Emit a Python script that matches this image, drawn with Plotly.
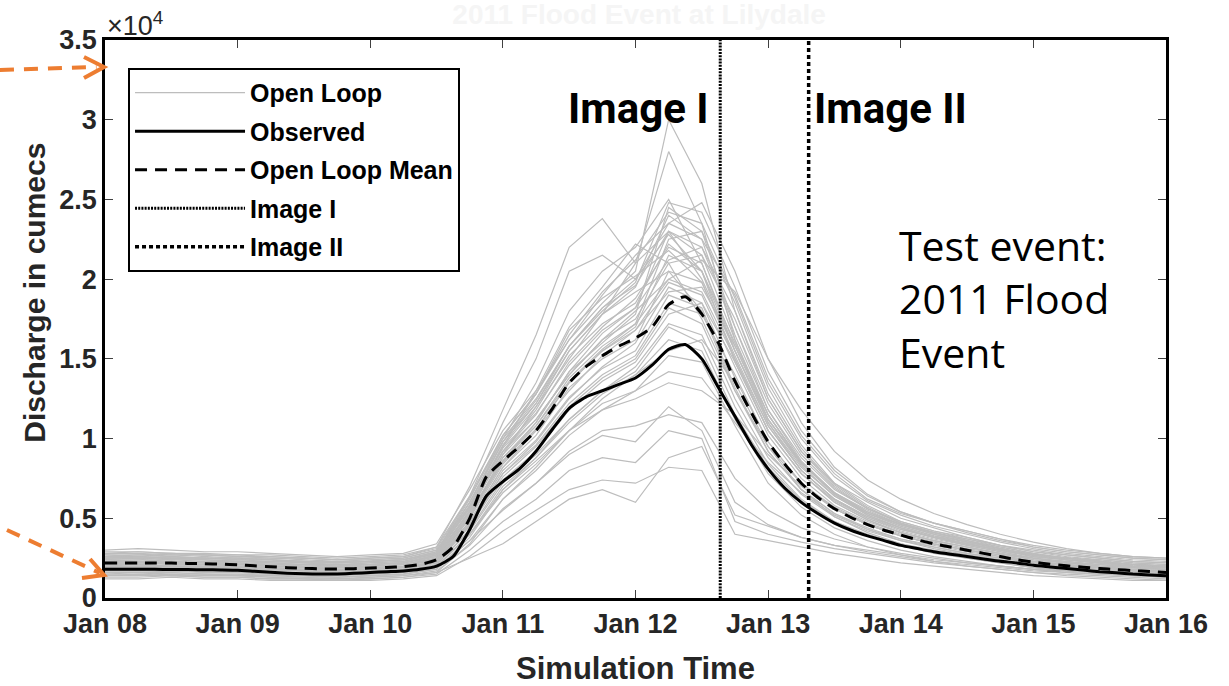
import plotly.graph_objects as go
import pandas as pd

# ---------------- data (discharge in units of 10^4 cumecs) ----------------
times_ens = pd.date_range('2011-01-08 00:00', '2011-01-16 00:00', freq='6h')
times_obs = pd.date_range('2011-01-08 00:00', '2011-01-16 00:00', freq='3h')

observed = [0.180, 0.180, 0.180, 0.180, 0.179, 0.178, 0.177, 0.176, 0.174, 0.168,
            0.162, 0.156, 0.152, 0.150, 0.151, 0.155, 0.160, 0.165, 0.170, 0.180,
            0.200, 0.260, 0.430, 0.640, 0.730, 0.810, 0.920, 1.060, 1.190, 1.260,
            1.300, 1.340, 1.380, 1.460, 1.560, 1.590, 1.500, 1.320, 1.140, 0.960,
            0.810, 0.690, 0.600, 0.530, 0.470, 0.425, 0.390, 0.360, 0.330, 0.310,
            0.290, 0.275, 0.260, 0.245, 0.230, 0.220, 0.205, 0.195, 0.185, 0.175,
            0.165, 0.158, 0.150, 0.145, 0.140]

ol_mean = [0.220, 0.220, 0.220, 0.220, 0.219, 0.217, 0.215, 0.212, 0.208, 0.202,
           0.196, 0.190, 0.186, 0.183, 0.182, 0.184, 0.188, 0.192, 0.197, 0.210,
           0.240, 0.320, 0.500, 0.760, 0.860, 0.950, 1.050, 1.190, 1.350, 1.450,
           1.520, 1.580, 1.630, 1.700, 1.840, 1.890, 1.780, 1.600, 1.360, 1.160,
           0.980, 0.840, 0.720, 0.630, 0.560, 0.505, 0.460, 0.425, 0.395, 0.365,
           0.340, 0.320, 0.300, 0.280, 0.260, 0.240, 0.225, 0.212, 0.202, 0.193,
           0.185, 0.178, 0.172, 0.166, 0.160]

ol_01 = [0.26,0.27,0.26,0.25,0.25,0.24,0.22,0.22,0.23,0.24,0.29,0.62,1.02,1.28,1.62,1.85,2.05,3.00,2.60,1.80,1.25,0.92,0.72,0.60,0.50,0.44,0.38,0.33,0.29,0.26,0.24,0.22,0.21]
ol_02 = [0.24,0.24,0.25,0.24,0.23,0.22,0.21,0.20,0.21,0.22,0.27,0.58,0.95,1.20,1.50,1.78,2.10,2.80,2.35,1.62,1.12,0.84,0.66,0.55,0.46,0.40,0.35,0.31,0.27,0.25,0.23,0.21,0.20]
ol_03 = [0.28,0.29,0.28,0.27,0.27,0.26,0.25,0.24,0.25,0.26,0.32,0.70,1.18,1.65,2.20,2.38,2.10,2.30,2.00,1.55,1.10,0.82,0.64,0.53,0.46,0.41,0.37,0.33,0.29,0.27,0.25,0.23,0.22]
ol_04 = [0.22,0.22,0.23,0.22,0.21,0.20,0.19,0.19,0.20,0.21,0.25,0.52,0.88,1.10,1.42,1.60,1.78,2.45,2.30,1.70,1.18,0.86,0.66,0.53,0.45,0.39,0.34,0.30,0.26,0.24,0.22,0.20,0.19]
ol_05 = [0.14,0.14,0.15,0.14,0.14,0.13,0.12,0.12,0.13,0.14,0.16,0.25,0.34,0.48,0.62,0.68,0.60,0.88,0.95,0.52,0.45,0.38,0.33,0.29,0.26,0.23,0.21,0.19,0.17,0.16,0.15,0.14,0.13]
ol_06 = [0.16,0.16,0.17,0.16,0.16,0.15,0.14,0.14,0.15,0.16,0.19,0.36,0.55,0.72,0.90,1.02,0.98,1.20,1.05,0.60,0.46,0.38,0.33,0.30,0.27,0.24,0.22,0.20,0.18,0.17,0.16,0.15,0.14]
ol_07 = [0.20,0.20,0.21,0.20,0.20,0.19,0.18,0.18,0.18,0.19,0.23,0.46,0.78,0.98,1.25,1.45,1.60,1.95,1.85,1.38,0.98,0.72,0.56,0.46,0.39,0.34,0.30,0.27,0.23,0.21,0.19,0.18,0.17]
ol_08 = [0.18,0.19,0.18,0.18,0.17,0.16,0.16,0.15,0.16,0.17,0.21,0.42,0.72,0.90,1.12,1.30,1.42,1.70,1.60,1.15,0.82,0.61,0.48,0.40,0.34,0.30,0.27,0.24,0.21,0.19,0.18,0.16,0.15]
ol_09 = [0.25,0.25,0.24,0.24,0.23,0.23,0.22,0.21,0.22,0.23,0.28,0.56,0.92,1.15,1.48,1.70,1.88,2.20,2.10,1.58,1.12,0.83,0.64,0.52,0.44,0.38,0.34,0.30,0.26,0.24,0.22,0.20,0.19]
ol_10 = [0.21,0.21,0.20,0.20,0.20,0.19,0.18,0.17,0.18,0.19,0.23,0.48,0.82,1.02,1.32,1.50,1.62,2.05,1.98,1.50,1.05,0.78,0.60,0.49,0.41,0.36,0.32,0.28,0.24,0.22,0.20,0.19,0.18]
ol_11 = [0.30,0.31,0.30,0.29,0.29,0.28,0.27,0.26,0.27,0.28,0.34,0.68,1.05,1.30,1.62,1.90,2.15,2.35,2.25,1.90,1.38,1.02,0.78,0.62,0.53,0.47,0.42,0.37,0.33,0.30,0.28,0.26,0.25]
ol_12 = [0.13,0.13,0.14,0.13,0.13,0.12,0.12,0.11,0.12,0.13,0.16,0.34,0.62,0.80,1.02,1.18,1.30,1.52,1.48,1.08,0.72,0.52,0.40,0.32,0.27,0.23,0.20,0.18,0.16,0.14,0.13,0.12,0.11]
ol_13 = [0.23,0.23,0.22,0.23,0.22,0.21,0.20,0.20,0.21,0.22,0.26,0.55,0.90,1.12,1.40,1.62,1.75,2.10,2.15,1.75,1.25,0.92,0.70,0.56,0.47,0.41,0.36,0.31,0.27,0.25,0.23,0.21,0.20]
ol_14 = [0.19,0.19,0.19,0.18,0.18,0.17,0.17,0.16,0.17,0.18,0.22,0.45,0.76,0.95,1.20,1.38,1.50,1.82,1.72,1.25,0.88,0.65,0.51,0.42,0.36,0.32,0.28,0.25,0.22,0.20,0.19,0.17,0.16]
ol_15 = [0.27,0.26,0.27,0.26,0.25,0.25,0.24,0.23,0.24,0.25,0.30,0.60,0.98,1.22,1.55,1.78,1.95,2.40,2.25,1.65,1.18,0.88,0.68,0.56,0.48,0.42,0.38,0.33,0.30,0.27,0.25,0.23,0.22]
ol_16 = [0.17,0.17,0.17,0.16,0.16,0.15,0.15,0.14,0.15,0.16,0.20,0.40,0.66,0.84,1.05,1.22,1.30,1.42,1.38,1.10,0.85,0.66,0.52,0.43,0.36,0.31,0.27,0.24,0.21,0.19,0.17,0.16,0.15]
ol_17 = [0.21,0.22,0.21,0.21,0.20,0.20,0.19,0.18,0.19,0.20,0.24,0.50,0.84,1.05,1.30,1.52,1.68,1.98,1.90,1.45,1.02,0.75,0.58,0.48,0.41,0.36,0.32,0.28,0.24,0.22,0.21,0.19,0.18]
ol_18 = [0.24,0.23,0.24,0.23,0.23,0.22,0.21,0.21,0.21,0.22,0.27,0.54,0.86,1.08,1.38,1.58,1.72,2.25,2.30,1.85,1.32,0.96,0.72,0.58,0.48,0.42,0.37,0.32,0.28,0.25,0.23,0.21,0.20]
ol_19 = [0.15,0.15,0.16,0.15,0.15,0.14,0.14,0.13,0.14,0.15,0.18,0.38,0.68,0.88,1.10,1.28,1.40,1.62,1.55,1.12,0.78,0.57,0.44,0.36,0.30,0.26,0.23,0.20,0.18,0.16,0.15,0.14,0.13]
ol_20 = [0.20,0.20,0.20,0.19,0.19,0.18,0.17,0.17,0.18,0.19,0.22,0.47,0.80,0.99,1.26,1.44,1.55,1.90,1.82,1.32,0.92,0.68,0.53,0.44,0.37,0.33,0.29,0.26,0.22,0.20,0.19,0.17,0.16]
ol_21 = [0.26,0.26,0.25,0.25,0.24,0.24,0.23,0.22,0.23,0.24,0.29,0.64,1.10,1.50,2.05,2.15,2.00,2.28,2.05,1.48,1.05,0.78,0.61,0.50,0.43,0.38,0.34,0.30,0.27,0.25,0.23,0.21,0.20]
ol_22 = [0.12,0.12,0.13,0.12,0.12,0.11,0.11,0.11,0.11,0.12,0.14,0.26,0.42,0.55,0.68,0.74,0.72,0.82,0.80,0.40,0.36,0.32,0.28,0.25,0.22,0.20,0.18,0.16,0.14,0.13,0.12,0.11,0.11]
ol_23 = [0.22,0.23,0.22,0.22,0.21,0.21,0.20,0.19,0.20,0.21,0.25,0.52,0.85,1.06,1.35,1.55,1.70,2.15,2.05,1.55,1.10,0.80,0.62,0.50,0.42,0.37,0.33,0.29,0.25,0.23,0.21,0.20,0.19]
ol_24 = [0.18,0.18,0.18,0.17,0.17,0.16,0.16,0.15,0.16,0.17,0.21,0.43,0.74,0.92,1.18,1.36,1.48,1.78,1.85,1.48,1.05,0.78,0.60,0.49,0.41,0.36,0.32,0.28,0.24,0.22,0.20,0.18,0.17]
ol_25 = [0.28,0.28,0.27,0.27,0.26,0.26,0.25,0.24,0.25,0.26,0.31,0.63,1.00,1.25,1.58,1.80,1.98,2.48,2.42,1.95,1.42,1.05,0.80,0.64,0.54,0.47,0.42,0.37,0.32,0.29,0.27,0.25,0.24]
ol_26 = [0.16,0.16,0.16,0.15,0.15,0.14,0.14,0.13,0.14,0.15,0.19,0.40,0.70,0.88,1.12,1.30,1.45,1.72,1.65,1.20,0.84,0.62,0.48,0.39,0.33,0.28,0.25,0.22,0.19,0.17,0.16,0.15,0.14]
ol_27 = [0.14,0.14,0.14,0.13,0.13,0.12,0.12,0.12,0.12,0.13,0.15,0.30,0.48,0.62,0.80,0.88,0.85,1.05,1.00,0.48,0.40,0.35,0.31,0.28,0.25,0.22,0.20,0.18,0.16,0.15,0.14,0.13,0.12]
ol_28 = [0.23,0.24,0.23,0.22,0.22,0.21,0.21,0.20,0.21,0.22,0.26,0.53,0.88,1.08,1.36,1.56,1.72,2.00,1.92,1.50,1.08,0.80,0.62,0.51,0.43,0.38,0.34,0.30,0.26,0.24,0.22,0.20,0.19]
ol_29 = [0.20,0.19,0.20,0.19,0.18,0.18,0.17,0.16,0.17,0.18,0.22,0.46,0.78,0.96,1.22,1.40,1.52,1.85,1.78,1.40,0.98,0.72,0.56,0.46,0.39,0.34,0.30,0.27,0.23,0.21,0.19,0.18,0.17]
ol_30 = [0.25,0.25,0.26,0.25,0.24,0.24,0.23,0.22,0.23,0.24,0.28,0.57,0.94,1.16,1.46,1.68,1.82,2.30,2.20,1.70,1.22,0.90,0.69,0.56,0.47,0.41,0.36,0.32,0.28,0.25,0.24,0.22,0.21]
ol_31 = [0.21,0.21,0.22,0.21,0.21,0.20,0.19,0.19,0.19,0.20,0.25,0.55,0.95,1.30,1.70,1.95,2.22,2.10,1.75,1.30,0.95,0.72,0.57,0.47,0.40,0.35,0.31,0.28,0.25,0.23,0.21,0.19,0.18]
ol_32 = [0.27,0.27,0.28,0.27,0.26,0.25,0.25,0.24,0.24,0.25,0.30,0.58,0.92,1.12,1.40,1.62,1.80,2.00,2.12,1.92,1.50,1.18,0.92,0.74,0.62,0.53,0.46,0.40,0.35,0.31,0.28,0.26,0.25]
ol_33 = [0.19,0.20,0.19,0.19,0.18,0.18,0.17,0.16,0.17,0.18,0.23,0.50,0.90,1.20,1.55,1.78,1.92,2.05,1.80,1.30,0.92,0.68,0.53,0.43,0.37,0.32,0.28,0.25,0.22,0.20,0.18,0.17,0.16]
ol_34 = [0.24,0.25,0.24,0.24,0.23,0.22,0.22,0.21,0.22,0.23,0.28,0.60,1.00,1.35,1.80,2.05,2.20,2.50,2.10,1.55,1.12,0.85,0.66,0.54,0.46,0.40,0.35,0.31,0.27,0.25,0.23,0.21,0.20]
ol_35 = [0.17,0.17,0.18,0.17,0.17,0.16,0.15,0.15,0.16,0.17,0.20,0.40,0.68,0.86,1.05,1.18,1.25,1.35,1.30,1.15,0.90,0.70,0.56,0.46,0.39,0.34,0.30,0.26,0.23,0.21,0.19,0.17,0.16]
ol_36 = [0.29,0.29,0.28,0.28,0.27,0.27,0.26,0.25,0.26,0.27,0.32,0.64,1.02,1.28,1.65,1.92,2.12,2.42,2.35,1.88,1.35,1.00,0.76,0.61,0.52,0.45,0.40,0.35,0.31,0.28,0.26,0.24,0.23]
ol_37 = [0.15,0.16,0.15,0.15,0.14,0.14,0.13,0.13,0.14,0.15,0.18,0.36,0.62,0.82,1.05,1.25,1.40,1.55,1.62,1.35,0.95,0.68,0.51,0.41,0.34,0.29,0.25,0.22,0.19,0.17,0.16,0.15,0.14]
ol_38 = [0.22,0.21,0.22,0.21,0.21,0.20,0.20,0.19,0.20,0.21,0.26,0.54,0.92,1.18,1.52,1.72,1.85,2.22,2.05,1.60,1.15,0.85,0.65,0.53,0.45,0.39,0.35,0.31,0.27,0.24,0.22,0.21,0.20]
ol_39 = [0.26,0.25,0.26,0.25,0.25,0.24,0.23,0.23,0.23,0.24,0.29,0.60,0.98,1.24,1.58,1.82,2.00,2.35,2.48,2.05,1.50,1.10,0.82,0.65,0.54,0.47,0.41,0.36,0.32,0.29,0.27,0.25,0.24]
ol_40 = [0.19,0.19,0.20,0.19,0.19,0.18,0.18,0.17,0.18,0.19,0.23,0.48,0.82,1.05,1.35,1.55,1.68,1.92,1.95,1.58,1.15,0.85,0.65,0.52,0.44,0.38,0.33,0.29,0.25,0.22,0.20,0.19,0.18]
ol_41 = [0.23,0.22,0.23,0.22,0.22,0.21,0.21,0.20,0.21,0.22,0.27,0.57,0.96,1.22,1.58,1.82,1.96,2.30,2.15,1.62,1.15,0.85,0.66,0.54,0.46,0.40,0.35,0.31,0.27,0.25,0.23,0.21,0.20]
ol_42 = [0.14,0.15,0.14,0.14,0.14,0.13,0.13,0.12,0.13,0.14,0.17,0.33,0.56,0.72,0.92,1.05,1.08,1.15,1.10,0.75,0.55,0.44,0.37,0.32,0.28,0.25,0.22,0.20,0.18,0.16,0.15,0.14,0.13]
ol_43 = [0.20,0.21,0.20,0.20,0.19,0.19,0.18,0.18,0.19,0.20,0.24,0.51,0.86,1.10,1.42,1.66,1.82,2.12,2.20,1.80,1.28,0.94,0.71,0.57,0.47,0.41,0.36,0.31,0.27,0.24,0.22,0.20,0.19]
ol_44 = [0.25,0.26,0.25,0.25,0.24,0.23,0.23,0.22,0.23,0.24,0.28,0.58,0.98,1.28,1.68,1.88,2.02,2.18,1.98,1.52,1.08,0.80,0.62,0.51,0.44,0.38,0.34,0.30,0.27,0.25,0.23,0.21,0.20]

open_loop_members = [ol_01, ol_02, ol_03, ol_04, ol_05, ol_06, ol_07, ol_08, ol_09, ol_10,
                     ol_11, ol_12, ol_13, ol_14, ol_15, ol_16, ol_17, ol_18, ol_19, ol_20,
                     ol_21, ol_22, ol_23, ol_24, ol_25, ol_26, ol_27, ol_28, ol_29, ol_30,
                     ol_31, ol_32, ol_33, ol_34, ol_35, ol_36, ol_37, ol_38, ol_39, ol_40,
                     ol_41, ol_42, ol_43, ol_44]

image_names = ['Image I', 'Image II']
image_times = ['2011-01-12 15:20', '2011-01-13 07:20']
y_span = [0, 3.5]

x_tick_vals = pd.date_range('2011-01-08', '2011-01-16', freq='D')
x_tick_text = ['Jan 08', 'Jan 09', 'Jan 10', 'Jan 11', 'Jan 12',
               'Jan 13', 'Jan 14', 'Jan 15', 'Jan 16']
y_tick_vals = [0, 0.5, 1, 1.5, 2, 2.5, 3, 3.5]
y_tick_text = ['0', '0.5', '1', '1.5', '2', '2.5', '3', '3.5']

# ---------------- figure ----------------
FONT = 'Liberation Sans, Arial, Helvetica, sans-serif'
LABEL_FONT = 'Roboto, Liberation Sans, sans-serif'
TXT = '#262626'
ORANGE = '#ED7D31'

fig = go.Figure()

for i, member in enumerate(open_loop_members):
    fig.add_trace(go.Scatter(
        x=times_ens, y=member, mode='lines', name='<b>Open Loop</b>',
        line=dict(color='#bdbdbd', width=1.2),
        legendgroup='ol', showlegend=(i == 0), hoverinfo='skip'))

fig.add_trace(go.Scatter(
    x=times_obs, y=observed, mode='lines', name='<b>Observed</b>',
    line=dict(color='black', width=3, shape='spline', smoothing=0.6),
    legendgroup='obs'))

fig.add_trace(go.Scatter(
    x=times_obs, y=ol_mean, mode='lines', name='<b>Open Loop Mean</b>',
    line=dict(color='black', width=3, dash='12px,8px', shape='spline', smoothing=0.6),
    legendgroup='mean'))

image_dash = ['2px,1.2px', '4px,3px']
image_width = [3, 3.5]
for name, t, dsh, w in zip(image_names, image_times, image_dash, image_width):
    fig.add_trace(go.Scatter(
        x=[t, t], y=y_span, mode='lines', name='<b>' + name + '</b>',
        line=dict(color='black', width=w, dash=dsh),
        legendgroup=name))

# labels over the two image lines
fig.add_annotation(x=0.5024, y=0.878, xref='paper', yref='paper', text='Image I',
                   xanchor='center', yanchor='middle', showarrow=False,
                   font=dict(family=LABEL_FONT, size=42, color='black', weight='bold'))
fig.add_annotation(x=0.740, y=0.878, xref='paper', yref='paper', text='Image II',
                   xanchor='center', yanchor='middle', showarrow=False,
                   font=dict(family=LABEL_FONT, size=42, color='black', weight='bold'))

# test-event text
fig.add_annotation(x=0.7465, y=0.536, xref='paper', yref='paper',
                   text='Test event:<br>2011 Flood<br>Event', align='left',
                   xanchor='left', yanchor='middle', showarrow=False,
                   font=dict(family='Open Sans, Noto Sans, sans-serif', size=41, color='black'))

# exponent label
fig.add_annotation(x=0.0, y=1.0, xref='paper', yref='paper', text='×10<sup>4</sup>',
                   xanchor='left', yanchor='bottom', showarrow=False, yshift=-3,
                   font=dict(family=FONT, size=27, color=TXT))

# y-axis title (placed like the reference, slightly above centre)
fig.add_annotation(x=-0.066, y=0.547, xref='paper', yref='paper', text='Discharge in cumecs',
                   textangle=-90, xanchor='center', yanchor='middle', showarrow=False,
                   font=dict(family=FONT, size=30, color=TXT, weight='bold'))

# orange pointer arrows (decorations outside the axes)
fig.add_shape(type='line', xref='paper', yref='paper', x0=-0.099, y0=0.9462, x1=-0.008, y1=0.9516,
              line=dict(color=ORANGE, width=4, dash='14px,10px'))
fig.add_shape(type='path', xref='paper', yref='paper',
              path='M -0.0198 0.9695 L -0.0009 0.9516 L -0.0198 0.9319',
              line=dict(color=ORANGE, width=4))
fig.add_shape(type='line', xref='paper', yref='paper', x0=-0.0924, y0=0.1219, x1=-0.005, y1=0.0448,
              line=dict(color=ORANGE, width=4, dash='14px,10px'))
fig.add_shape(type='path', xref='paper', yref='paper',
              path='M -0.0141 0.0699 L -0.0009 0.0412 L -0.0217 0.0358',
              line=dict(color=ORANGE, width=4))

axis_common = dict(showline=True, linecolor='black', linewidth=2.5, mirror='ticks',
                   ticks='inside', ticklen=8, tickwidth=1.2, tickcolor='#404040',
                   showgrid=False, zeroline=False,
                   tickfont=dict(family=FONT, size=27, color=TXT, weight='bold'))

fig.update_xaxes(range=['2011-01-08', '2011-01-16'], tickvals=x_tick_vals, ticktext=x_tick_text,
                 title=dict(text='Simulation Time',
                            font=dict(family=FONT, size=31, color=TXT, weight='bold'),
                            standoff=20),
                 **axis_common)
fig.update_yaxes(range=[0, 3.5], tickvals=y_tick_vals, ticktext=y_tick_text,
                 **axis_common)

fig.update_layout(
    width=1229, height=686,
    margin=dict(l=105, r=63, t=40, b=88, autoexpand=False),
    paper_bgcolor='white', plot_bgcolor='white',
    title=dict(text='2011 Flood Event at Lilydale', x=0.52, xanchor='center', y=0.993,
               yanchor='top', pad=dict(t=0),
               font=dict(family=FONT, size=28, color='#f5f5f5', weight='bold')),
    legend=dict(x=0.0217, y=0.95, xanchor='left', yanchor='top',
                bgcolor='white', bordercolor='black', borderwidth=2,
                font=dict(family=FONT, size=25, color='black'),
                itemwidth=110, tracegroupgap=3, traceorder='grouped'),
    showlegend=True,
)

fig.write_html('out.html')
